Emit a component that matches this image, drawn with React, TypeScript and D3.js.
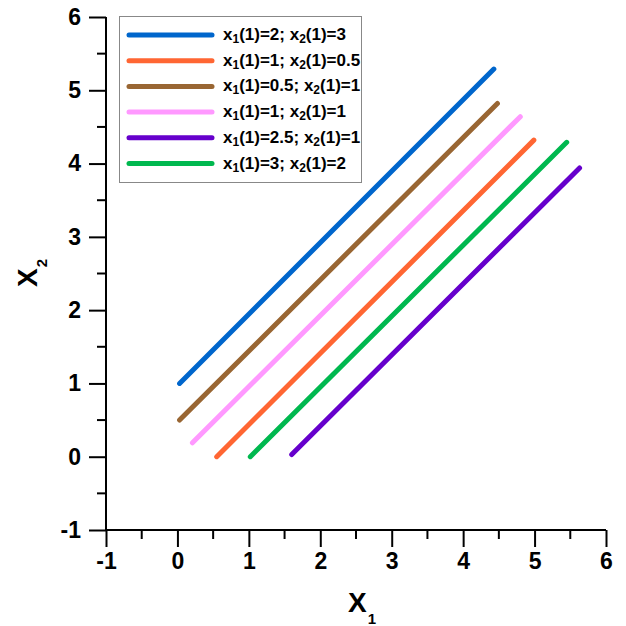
import React, { useEffect, useRef } from 'react';
import * as d3 from 'd3';

// Data: each trajectory as [x1, x2] points
const seriesNames = [
  ['2', '3'],
  ['1', '0.5'],
  ['0.5', '1'],
  ['1', '1'],
  ['2.5', '1'],
  ['3', '2'],
];
const seriesColors = ['#0066cc', '#ff6633', '#996633', '#ff99ff', '#6600cc', '#00b84f'];
const blueLine = [[0.03, 1], [4.43, 5.29]];
const orangeLine = [[0.55, 0], [4.99, 4.32]];
const brownLine = [[0.03, 0.5], [4.48, 4.82]];
const pinkLine = [[0.21, 0.19], [4.8, 4.64]];
const purpleLine = [[1.6, 0.03], [5.63, 3.94]];
const greenLine = [[1.02, 0], [5.45, 4.29]];
const seriesData = [blueLine, orangeLine, brownLine, pinkLine, purpleLine, greenLine];
const xTicks = [-1, 0, 1, 2, 3, 4, 5, 6];
const yTicks = [-1, 0, 1, 2, 3, 4, 5, 6];

const App = () => {
  const chartRef = useRef<HTMLDivElement>(null);

  useEffect(() => {
    document.body.style.margin = '0';
    const width = 626;
    const height = 626;
    const margin = { top: 17, right: 20, bottom: 96, left: 106 };

    d3.select(chartRef.current).select('svg').remove();

    const svg = d3.select(chartRef.current)
      .append('svg')
      .attr('width', width)
      .attr('height', height)
      .style('display', 'block')
      .style('font-family', '"Liberation Sans", Arial, sans-serif');

    const x = d3.scaleLinear().domain([-1, 6]).range([margin.left, width - margin.right]);
    const y = d3.scaleLinear().domain([-1, 6]).range([height - margin.bottom, margin.top]);

    // Axes
    const xAxis = svg.append('g')
      .attr('transform', `translate(0,${y(-1)})`)
      .call(d3.axisBottom(x).tickValues(xTicks).tickSize(17).tickPadding(6).tickFormat(d => String(d)));
    xAxis.select('.domain').attr('stroke-width', 2).attr('d', `M${x(-1)},0H${x(6)}`);
    xAxis.selectAll('.tick line').attr('stroke-width', 2);
    xAxis.selectAll('.tick text')
      .attr('font-size', '23px')
      .attr('font-weight', 'bold')
      .attr('font-family', '"Liberation Sans", Arial, sans-serif')
      .attr('fill', '#000');
    xAxis.selectAll('.minor')
      .data(d3.range(-0.5, 6, 1))
      .enter()
      .append('line')
      .attr('x1', d => x(d))
      .attr('x2', d => x(d))
      .attr('y1', 0)
      .attr('y2', 9)
      .attr('stroke', '#000')
      .attr('stroke-width', 2);

    const yAxis = svg.append('g')
      .attr('transform', `translate(${x(-1)},0)`)
      .call(d3.axisLeft(y).tickValues(yTicks).tickSize(17).tickPadding(8).tickFormat(d => String(d)));
    yAxis.select('.domain').attr('stroke-width', 2).attr('d', `M0,${y(-1)}V${y(6)}`);
    yAxis.selectAll('.tick line').attr('stroke-width', 2);
    yAxis.selectAll('.tick text')
      .attr('font-size', '23px')
      .attr('font-weight', 'bold')
      .attr('font-family', '"Liberation Sans", Arial, sans-serif')
      .attr('fill', '#000');
    yAxis.selectAll('.minor')
      .data(d3.range(-0.5, 6, 1))
      .enter()
      .append('line')
      .attr('x1', 0)
      .attr('x2', -9)
      .attr('y1', d => y(d))
      .attr('y2', d => y(d))
      .attr('stroke', '#000')
      .attr('stroke-width', 2);

    // Lines
    const line = d3.line<number[]>().x(d => x(d[0])).y(d => y(d[1]));
    svg.selectAll('.series')
      .data(seriesData)
      .enter()
      .append('path')
      .attr('d', d => line(d))
      .attr('fill', 'none')
      .attr('stroke', (d, i) => seriesColors[i])
      .attr('stroke-width', 5)
      .attr('stroke-linecap', 'round');

    // Axis titles
    const xTitle = svg.append('text')
      .attr('x', 348)
      .attr('y', 612)
      .attr('font-size', '28px')
      .attr('font-weight', 'bold');
    xTitle.append('tspan').text('X');
    xTitle.append('tspan').attr('font-size', '15px').attr('dy', 12).attr('dx', 1).text('1');

    const yTitle = svg.append('text')
      .attr('transform', 'translate(37,287) rotate(-90)')
      .attr('font-size', '28px')
      .attr('font-weight', 'bold');
    yTitle.append('tspan').text('X');
    yTitle.append('tspan').attr('font-size', '15px').attr('dy', 10).attr('dx', 1).text('2');

    // Legend
    const legend = svg.append('g');
    legend.append('rect')
      .attr('x', 119.5)
      .attr('y', 16.5)
      .attr('width', 242)
      .attr('height', 166)
      .attr('fill', '#fff')
      .attr('stroke', '#888')
      .attr('stroke-width', 1);

    seriesNames.forEach((names, i) => {
      const ly = 35 + i * 25.7;
      legend.append('line')
        .attr('x1', 129)
        .attr('x2', 212)
        .attr('y1', ly)
        .attr('y2', ly)
        .attr('stroke', seriesColors[i])
        .attr('stroke-width', 5)
        .attr('stroke-linecap', 'round');
      const t = legend.append('text')
        .attr('x', 223)
        .attr('y', ly + 5)
        .attr('font-size', '17px')
        .attr('font-weight', 'bold');
      t.append('tspan').text('x');
      t.append('tspan').attr('font-size', '12px').attr('dy', 3).text('1');
      t.append('tspan').attr('dy', -3).text(`(1)=${names[0]}; x`);
      t.append('tspan').attr('font-size', '12px').attr('dy', 3).text('2');
      t.append('tspan').attr('dy', -3).text(`(1)=${names[1]}`);
    });
  }, []);

  return (
    <div ref={chartRef}></div>
  );
};

export default App;
